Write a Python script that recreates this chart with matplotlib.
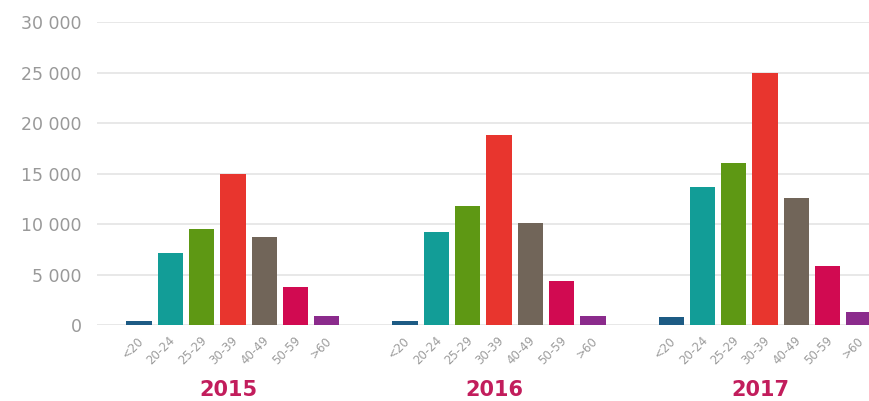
import numpy as np
import matplotlib
matplotlib.use('Agg')
import matplotlib.pyplot as plt
import matplotlib.transforms as mtransforms

# data
ages = ['<20', '20-24', '25-29', '30-39', '40-49', '50-59', '>60']
years = ['2015', '2016', '2017']
v2015 = [400, 7100, 9500, 15000, 8700, 3800, 900]
v2016 = [400, 9200, 11800, 18800, 10100, 4400, 900]
v2017 = [800, 13700, 16000, 25000, 12600, 5800, 1300]

colors = ['#1d5b84', '#129d97', '#5e9814', '#e8352e', '#716559', '#d10a51', '#8b2b8c']
year_color = '#c21d5c'

fig = plt.figure(figsize=(8.7, 4.01), dpi=100)
ax = fig.add_axes([0.1115, 0.1895, 0.8885, 0.7556])
blend = mtransforms.blended_transform_factory(ax.transData, ax.transAxes)

group_gap = 8.5
for g, vals in enumerate([v2015, v2016, v2017]):
  x = g * group_gap + np.arange(len(ages))
  ax.bar(x, vals, width=0.81, color=colors, zorder=2)
  for xi, lab in zip(x, ages):
    ax.text(xi - 0.05, -0.03, lab, transform=blend,
            rotation=45, ha='right', va='top', rotation_mode='anchor',
            fontsize=8.5, color='#9c9c9c')
  ax.text(x[3] - 0.15, -0.213, years[g], transform=blend,
          ha='center', va='center', fontsize=15, fontweight='bold', color=year_color)

ax.set_xlim(-1.34, 23.35)
ax.set_ylim(0, 30000)
yt = np.arange(0, 30001, 5000)
ax.set_yticks(yt)
ax.set_yticklabels([f'{v:,}'.replace(',', ' ') for v in yt], fontsize=12.5, color='#999999')
ax.tick_params(axis='y', length=0, pad=11)
ax.set_xticks([])
ax.yaxis.grid(True, color='#e6e6e6', lw=1.3, zorder=0)
ax.set_axisbelow(True)
for s in ax.spines.values():
  s.set_visible(False)

fig.savefig('out.png', dpi=100)
